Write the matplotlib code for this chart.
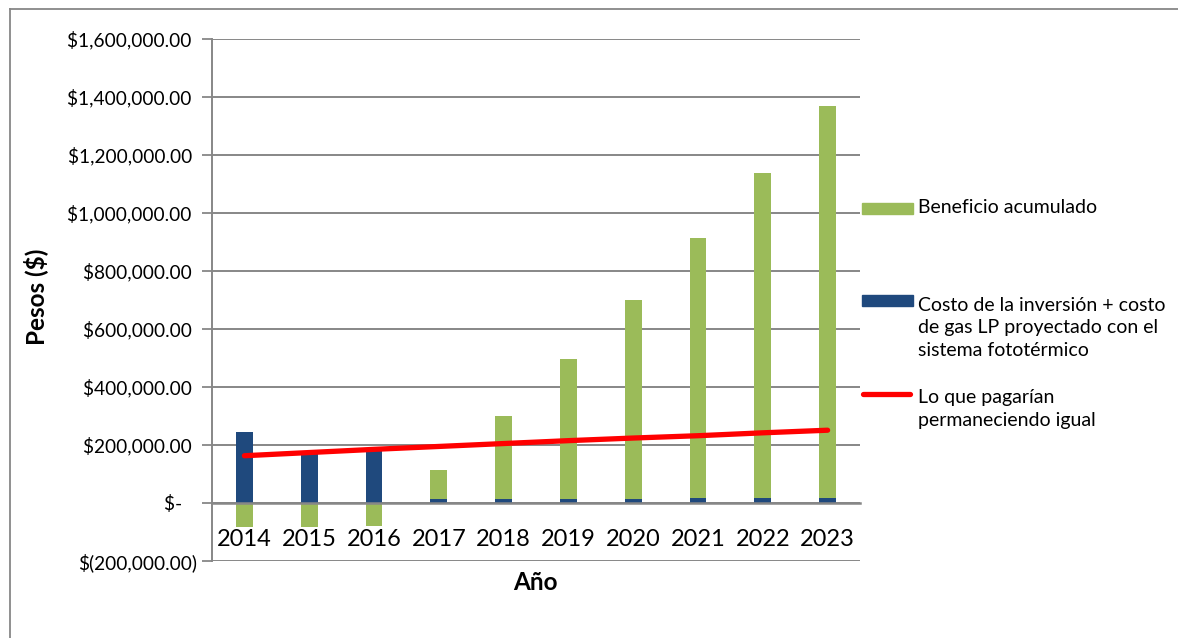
import numpy as np
import matplotlib.pyplot as plt
from matplotlib.lines import Line2D
from matplotlib.patches import Rectangle
from matplotlib.ticker import FuncFormatter

plt.rcParams['font.family'] = ['Lato', 'DejaVu Sans']

years = ['2014', '2015', '2016', '2017', '2018', '2019', '2020', '2021', '2022', '2023']
# costo de la inversion + gas LP con el sistema fototermico
costo = [245000, 172000, 178000, 13000, 14000, 14000, 15000, 16000, 18000, 18000]
# beneficio acumulado
beneficio = [-84000, -84000, -79000, 101000, 286000, 483000, 685000, 898000, 1119000, 1352000]
# lo que pagarian sin cambiar nada
pagarian = [163000, 174000, 185000, 195000, 205000, 215000, 224000, 232000, 242000, 251000]

VERDE = '#9BBB59'
AZUL = '#1F497D'
ROJO = '#FF0000'
GRIS = '#878787'

W, H = 1178, 638
fig = plt.figure(figsize=(W / 100, H / 100), dpi=100)
ax = fig.add_axes([212 / W, 1 - 561 / H, (860 - 212) / W, (561 - 39) / H])


def px(x, y):
    return x / W, 1 - y / H


x = np.arange(len(years))
costo_a = np.array(costo)
benef_a = np.array(beneficio)
base = np.where(benef_a > 0, costo_a, 0)

ax.bar(x, costo_a, width=0.26, color=AZUL, zorder=2)
ax.bar(x, benef_a, width=0.26, bottom=base, color=VERDE, zorder=2)
ax.plot(x, pagarian, color=ROJO, lw=3.8, solid_capstyle='round', zorder=3)

ax.set_xlim(-0.5, len(years) - 0.5)
ax.set_ylim(-200000, 1600000)
ax.set_yticks(np.arange(-200000, 1600001, 200000))


def pesos(v, pos):
    if v == 0:
        return '$-   '
    if v < 0:
        return '$(' + format(-v, ',.2f') + ')'
    return '$' + format(v, ',.2f') + ' '


ax.yaxis.set_major_formatter(FuncFormatter(pesos))
ax.set_xticks(x)
ax.set_xticklabels(years)
ax.tick_params(axis='y', direction='out', length=7, width=1.3, color=GRIS, labelsize=13.8, pad=4)
ax.tick_params(axis='x', length=0, labelsize=17, pad=19)

ax.grid(axis='y', color=GRIS, lw=1.4)
ax.set_axisbelow(True)
for s in ['top', 'right']:
    ax.spines[s].set_visible(False)
ax.spines['left'].set_color(GRIS)
ax.spines['left'].set_linewidth(1.4)
ax.spines['bottom'].set_position(('data', 0))
ax.spines['bottom'].set_color(GRIS)
ax.spines['bottom'].set_linewidth(1.8)

fig.text(*px(36, 297), 'Pesos ($)', rotation=90, ha='center', va='center',
         fontsize=17.5, fontweight='bold')
fig.text(*px(535, 583), 'Año', ha='center', va='center', fontsize=17.5, fontweight='bold')

# leyenda
fig.add_artist(Rectangle(px(862, 214), 51 / W, 11 / H, transform=fig.transFigure,
                         color=VERDE))
fig.text(*px(918, 208), 'Beneficio acumulado', ha='left', va='center', fontsize=14)
fig.add_artist(Rectangle(px(862, 306), 51 / W, 11 / H, transform=fig.transFigure,
                         color=AZUL))
fig.text(*px(918, 328), 'Costo de la inversión + costo\nde gas LP proyectado con el\nsistema fototérmico',
         ha='left', va='center', fontsize=14, linespacing=1.4)
fig.add_artist(Line2D([863 / W, 910 / W], [1 - 394 / H] * 2, transform=fig.transFigure,
                      color=ROJO, lw=3.8, solid_capstyle='round'))
fig.text(*px(918, 409), 'Lo que pagarían\npermaneciendo igual', ha='left', va='center',
         fontsize=14, linespacing=1.4)

# marco del grafico
fig.add_artist(Line2D([10 / W, 10 / W], [1 - 9 / H, 0], transform=fig.transFigure,
                      color=GRIS, lw=1.3))
fig.add_artist(Line2D([10 / W, 1], [1 - 9 / H, 1 - 9 / H], transform=fig.transFigure,
                      color=GRIS, lw=1.3))

fig.savefig('out.png', dpi=100)
